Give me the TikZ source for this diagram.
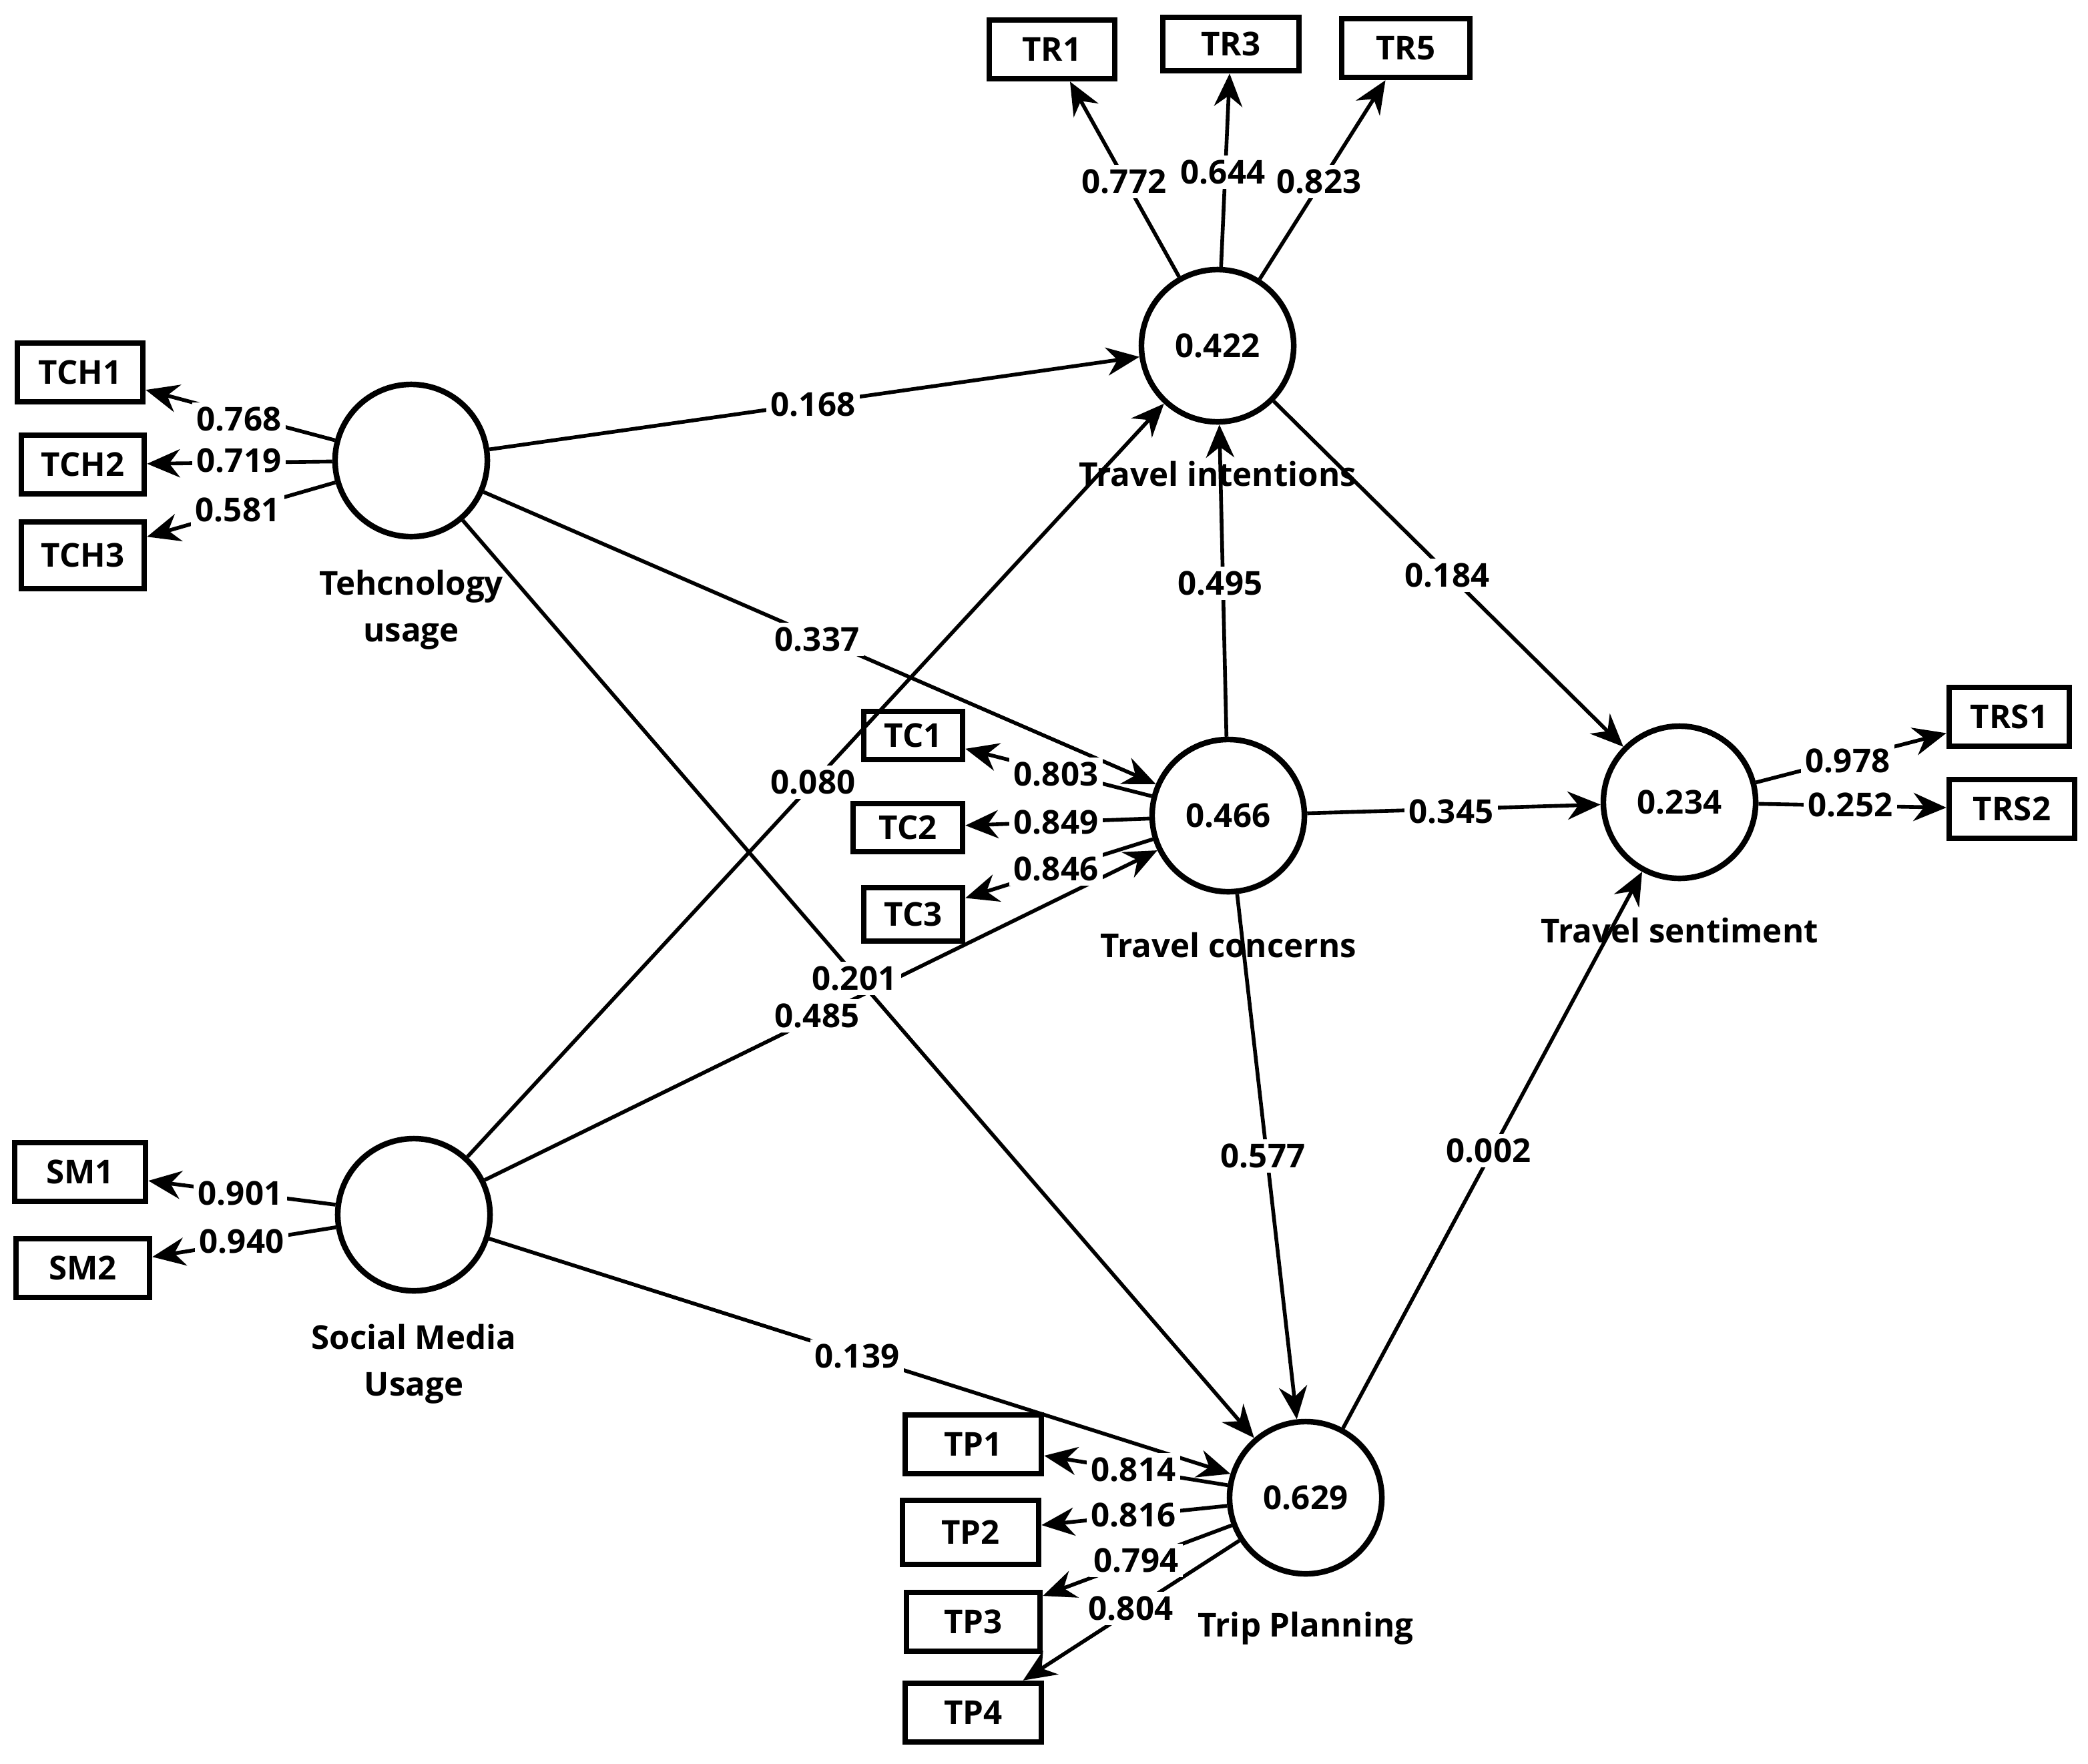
\documentclass[tikz,border=0pt]{standalone}
\usepackage{fontspec}
\setmainfont{Open Sans}
\usetikzlibrary{arrows.meta}
\begin{document}
\begin{tikzpicture}[x=0.01cm,y=-0.01cm,
 lv/.style={circle,draw,line width=1.2pt,minimum size=1.14cm,inner sep=0pt,font=\fontsize{7}{8}\selectfont\bfseries},
 ind/.style={draw,line width=1.2pt,minimum width=#1,minimum height=0.44cm,inner sep=0pt,font=\fontsize{7}{8}\selectfont\bfseries},
 ind/.default=0.94cm,
 ar/.style={line width=0.8pt,-{Stealth[length=7pt,width=6pt]}},
 lb/.style={fill=white,inner sep=1pt,font=\fontsize{7}{8}\selectfont\bfseries},
 nm/.style={align=center,font=\fontsize{7}{10}\selectfont\bfseries}]
\useasboundingbox (0,0) rectangle (1564,1321);
\node[lv] (tu) at (308,345) {};
\node[lv] (ti) at (912,259) {0.422};
\node[lv] (tc) at (920,611) {0.466};
\node[lv] (ts) at (1258,601) {0.234};
\node[lv] (sm) at (310,910) {};
\node[lv] (tp) at (978,1122) {0.629};
\node[ind] (tr1) at (788,37) {TR1};
\node[ind=1.02cm,minimum height=0.4cm] (tr3) at (922,33) {TR3};
\node[ind=0.96cm] (tr5) at (1053,36) {TR5};
\node[ind] (tch1) at (60,279) {TCH1};
\node[ind=0.92cm] (tch2) at (62,348) {TCH2};
\node[ind=0.92cm,minimum height=0.5cm] (tch3) at (62,416) {TCH3};
\node[ind=0.74cm,minimum height=0.36cm] (tc1) at (684,551) {TC1};
\node[ind=0.82cm,minimum height=0.36cm] (tc2) at (680,620) {TC2};
\node[ind=0.74cm,minimum height=0.4cm] (tc3) at (684,685) {TC3};
\node[ind=0.9cm] (trs1) at (1505,537) {TRS1};
\node[ind] (trs2) at (1507,606) {TRS2};
\node[ind=0.98cm] (sm1) at (60,878) {SM1};
\node[ind=1cm] (sm2) at (62,950) {SM2};
\node[ind=1.02cm] (tp1) at (729,1082) {TP1};
\node[ind=1.02cm,minimum height=0.48cm] (tp2) at (727,1148) {TP2};
\node[ind=1cm] (tp3) at (729,1215) {TP3};
\node[ind=1.02cm] (tp4) at (729,1283) {TP4};
\node[nm] (ntu) at (308,457) {Tehcnology\\usage};
\node[nm] (nsm) at (310,1022) {Social Media\\Usage};
\node[nm] (ntc) at (920,708) {Travel concerns};
\node[nm] (nts) at (1258,697) {Travel sentiment};
\node[nm] (ntp) at (978,1220) {Trip Planning};
% outer loadings
\foreach \a/\b in {ti/tr1,ti/tr3,ti/tr5,tu/tch1,tu/tch2,tu/tch3,tc/tc1,tc/tc2,tc/tc3,ts/trs1,ts/trs2,sm/sm1,sm/sm2,tp/tp1,tp/tp2,tp/tp3,tp/tp4}
  \draw[ar] (\a) -- (\b);
% structural
\foreach \a/\b in {tu/ti,tu/tc,tu/tp,ti/ts,tc/ti,tc/ts,tc/tp,sm/ti,sm/tc,sm/tp,tp/ts}
  \draw[ar] (\a) -- (\b);
\node[nm] (nti) at (912,355) {Travel intentions};
\foreach \p/\t in {{(842,136)}/0.772,{(916,129)}/0.644,{(988,136)}/0.823,{(179,314)}/0.768,{(179,345)}/0.719,{(178,382)}/0.581,{(609,303)}/0.168,{(612,479)}/0.337,{(914,437)}/0.495,{(1084,431)}/0.184,{(609,586)}/0.080,{(791,580)}/0.803,{(791,616)}/0.849,{(791,651)}/0.846,{(1087,608)}/0.345,{(1384,570)}/0.978,{(1386,603)}/0.252,{(640,733)}/0.201,{(612,761)}/0.485,{(946,866)}/0.577,{(1115,862)}/0.002,{(180,894)}/0.901,{(181,930)}/0.940,{(642,1016)}/0.139,{(849,1101)}/0.814,{(849,1135)}/0.816,{(851,1169)}/0.794,{(847,1205)}/0.804}
  \node[lb] at \p {\t};
\end{tikzpicture}
\end{document}
